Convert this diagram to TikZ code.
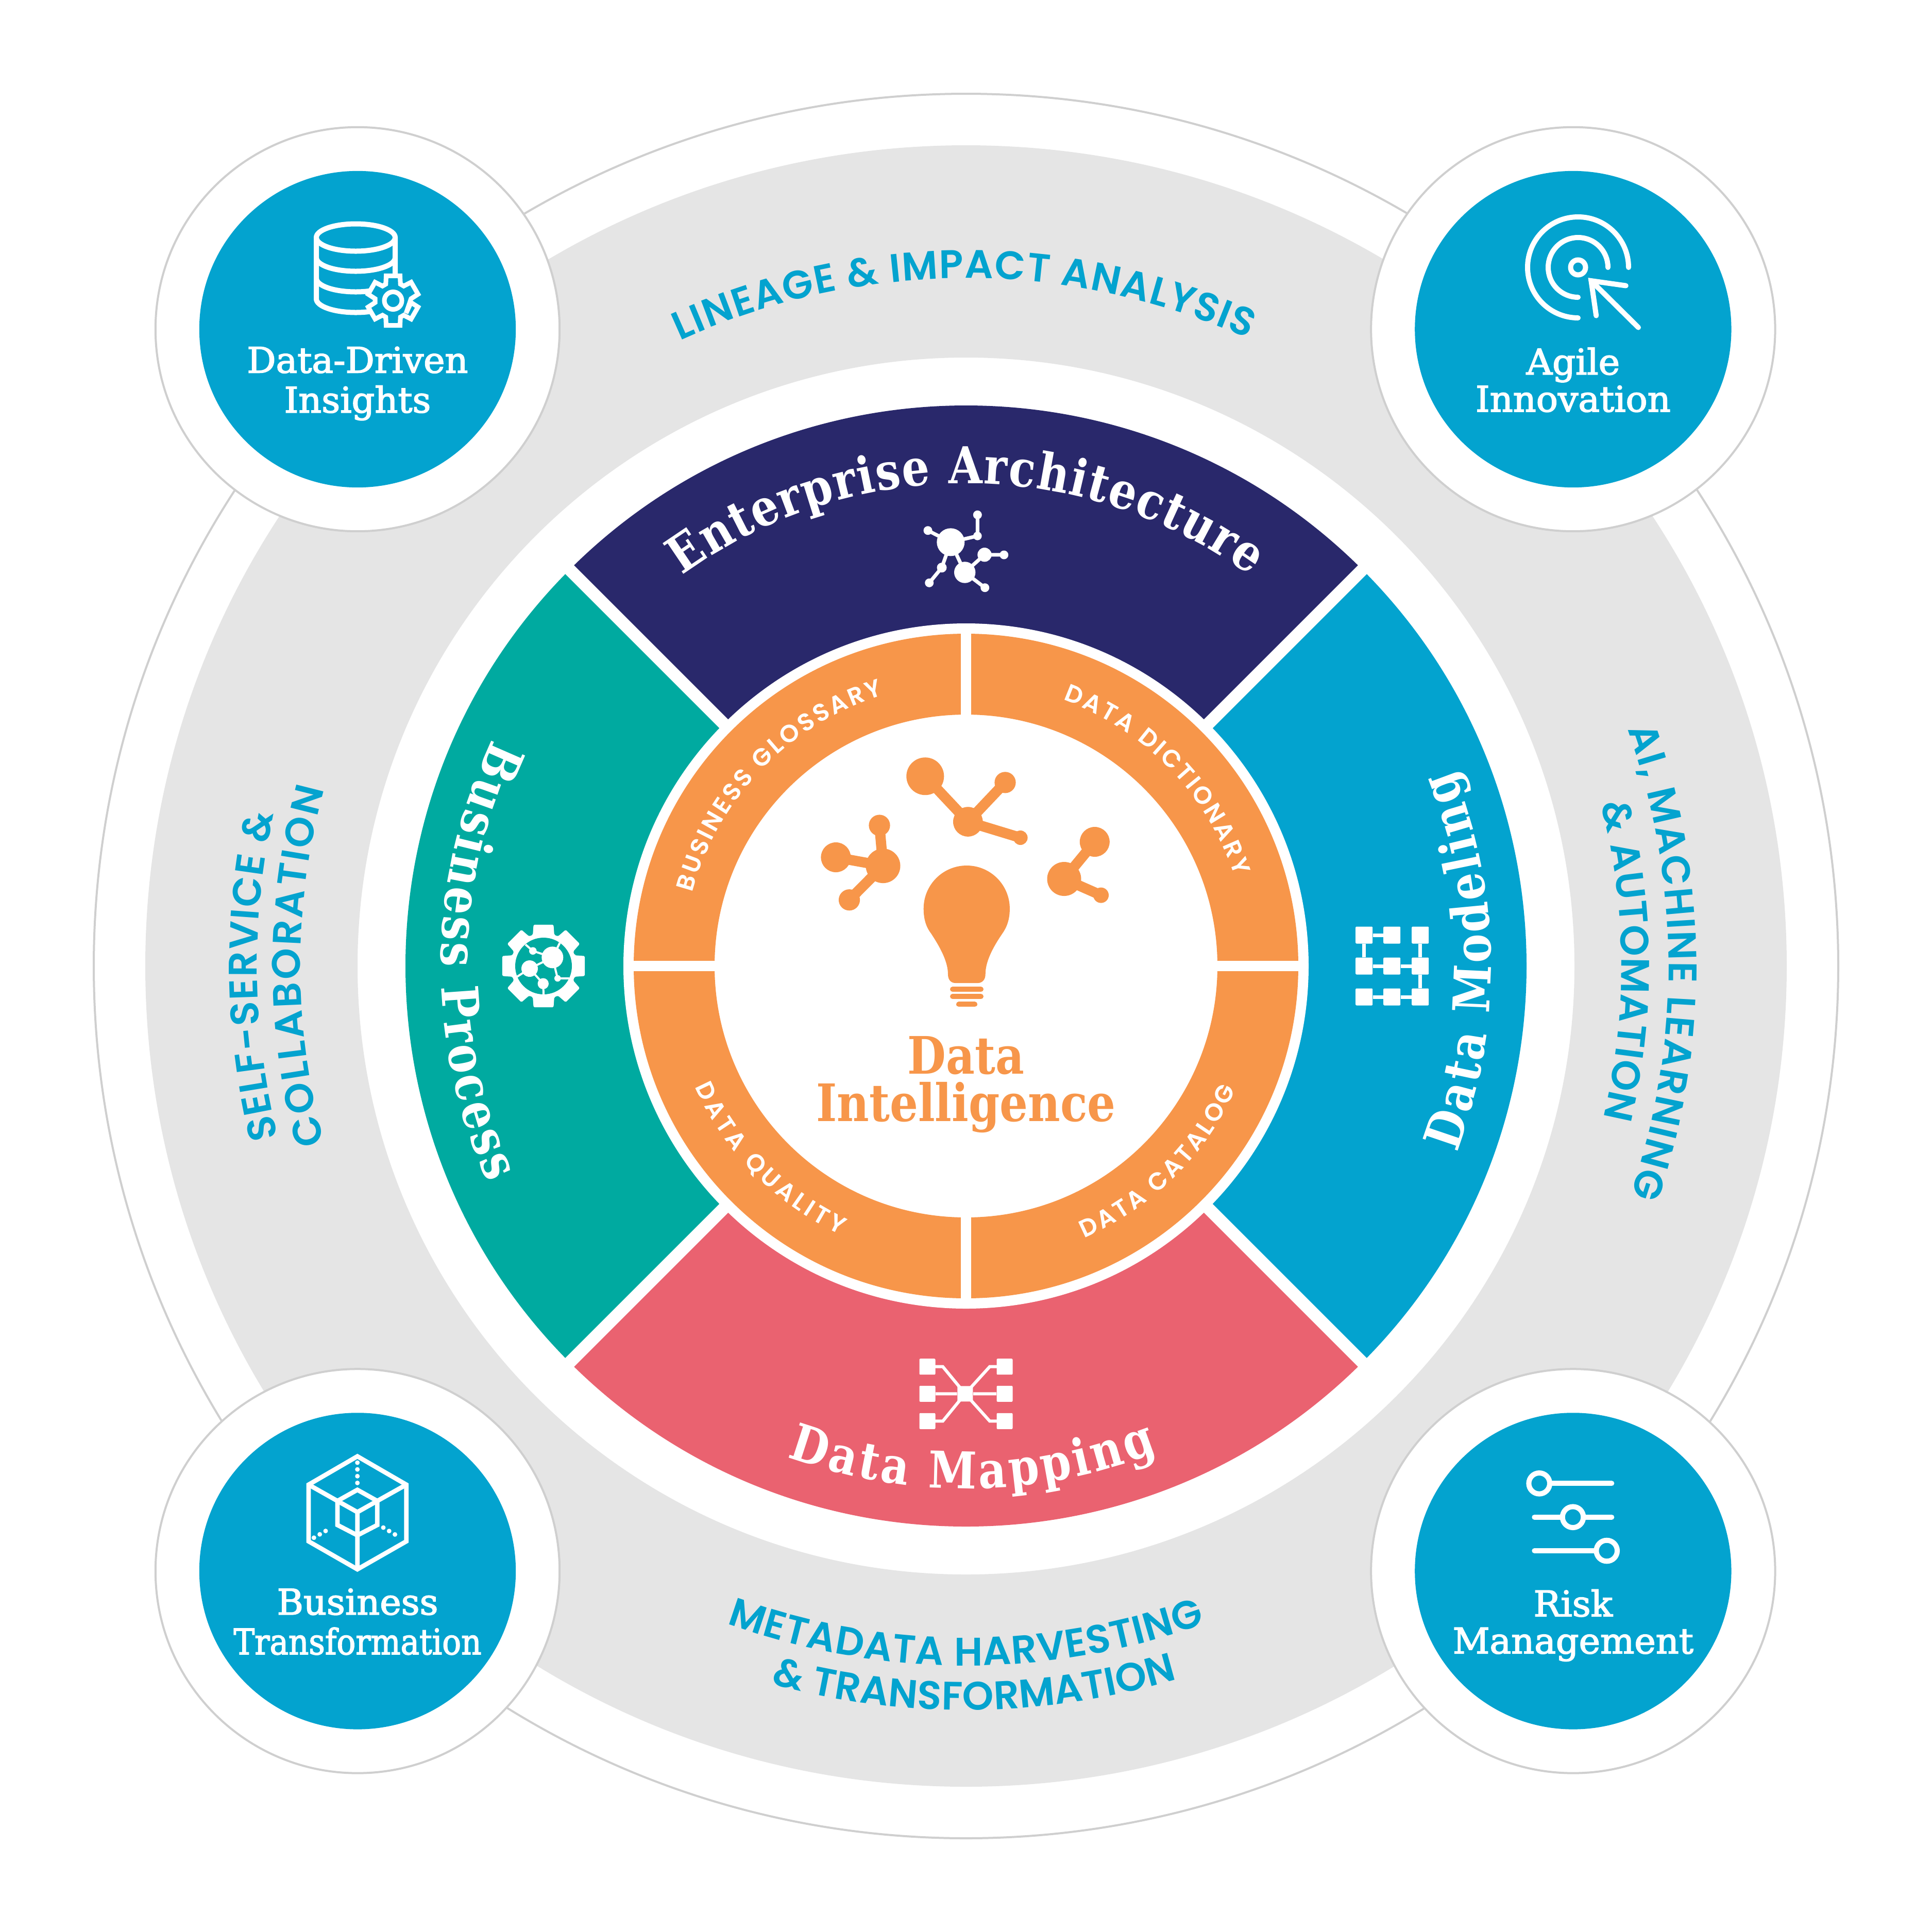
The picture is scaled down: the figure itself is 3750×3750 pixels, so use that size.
\documentclass[tikz,border=0pt]{standalone}
\usepackage{fontspec}
\usetikzlibrary{positioning,calc,decorations.text}
\newfontfamily\slabfont[FakeStretch=1.02,FakeBold=2.5]{DejaVu Serif}
\newfontfamily\slabheavy[FakeStretch=0.86]{DejaVu Serif Bold}
\newfontfamily\capsfont{Poppins SemiBold}
\newcommand{\bandfont}{\capsfont\fontsize{22}{22}\selectfont\color{skyblue}}
\newcommand{\ringfont}{\capsfont\fontsize{13.5}{13.5}\selectfont\color{white}}
\newcommand{\sectorfont}{\slabheavy\fontsize{28}{28}\selectfont\color{white}}
\definecolor{skyblue}{HTML}{03A3CF}
\definecolor{navyband}{HTML}{29286B}
\definecolor{tealband}{HTML}{00AAA0}
\definecolor{coralband}{HTML}{EA6270}
\definecolor{orangeband}{HTML}{F7964A}
\definecolor{greyband}{HTML}{E5E5E5}
\definecolor{greyline}{HTML}{CFCFCF}
\tikzset{
  satring/.style={circle,draw=greyline,fill=white,line width=.04cm,inner sep=0pt,minimum size=7.84cm},
  satdisc/.style={circle,fill=skyblue,inner sep=0pt,minimum size=6.14cm},
  satlabel/.style={font=\slabfont\fontsize{19.5}{20.5}\selectfont,text=white,align=center,inner sep=0pt},
  bandtext/.style={decorate,decoration={text along path,text align={fit to path},text={|\bandfont|#1}}},
  ringtext/.style={decorate,decoration={text along path,text align={fit to path},text={|\ringfont|#1}}},
  sectortext/.style={decorate,decoration={text along path,text align={fit to path},text={|\sectorfont|#1}}},
  atom/.style={circle,fill=#1,inner sep=0pt,outer sep=0pt},
  cell/.style={rectangle,fill=white,inner sep=0pt,minimum size=#1,rounded corners=.02cm},
  iconline/.style={draw=white,line width=.1cm},
  knob/.style={circle,draw=white,fill=skyblue,line width=.1cm,inner sep=0pt,minimum size=.406cm}
}

\begin{document}
\begin{tikzpicture}[x=.01cm,y=-.01cm,node distance=24.09cm and 23.58cm,on grid]
  \path[use as bounding box] (0,0) rectangle (3750,3750);
  \coordinate (ctr) at (1875,1875);

  % outer rings
  \draw[greyline,line width=.04cm] (ctr) circle (1693);
  \fill[greyband,even odd rule] (ctr) circle (1593) (ctr) circle (1181);

  % corner discs
  \node[satring] (insights)  at (694,639)       {};
  \node[satring] (agile)     [right=of insights]  {};
  \node[satring] (transform) [below=of insights]  {};
  \node[satring] (risk)      [right=of transform] {};
  \foreach \n in {insights,agile,transform,risk}
    \node[satdisc] (\n disc) at (\n) {};
  \node[satlabel] (insightstxt)  at ($(insights)+(0,108.6)$)  {\strut Data-Driven\\\strut Insights};
  \node[satlabel] (agiletxt)     at ($(agile)+(0,108.6)$)     {\strut Agile\\\strut Innovation};
  \node[satlabel] (transformtxt) at ($(transform)+(0,108.6)$) {\strut Business\\\strut\scalebox{.875}[1]{Transformation}};
  \node[satlabel] (risktxt)      at ($(risk)+(0,108.6)$)      {\strut Risk\\\strut Management};

  \begin{scope}[shift={(1875,1875)}]
    % band labels
    \path[bandtext={LINEAGE {\&} IMPACT ANALYSIS}] (245.4:1335) arc (245.4:294.2:1335);
    \path[bandtext={METADATA HARVESTING}] (110:1358) arc (110:70:1358);
    \path[bandtext={{\&} TRANSFORMATION}] (105.2:1444) arc (105.2:73.5:1444);
    \path[bandtext={SELF-SERVICE {\&}}] (166:1376) arc (166:192.4:1376);
    \path[bandtext={COLLABORATION}] (164.6:1292) arc (164.6:195.4:1292);
    \path[bandtext={AI, MACHINE LEARNING}] (-19.7:1364) arc (-19.7:19:1364);
    \path[bandtext={{\&} AUTOMATION}] (-14.3:1272) arc (-14.3:13.4:1272);

    % coloured sectors
    \foreach \ang/\col in {225/navyband,315/skyblue,45/coralband,135/tealband}
      \fill[\col] (0,0) -- (\ang:1088) arc (\ang:{\ang+90}:1088) -- cycle;
    \draw[white,line width=.24cm] (45:1100) -- (225:1100) (135:1100) -- (315:1100);
    \fill[white] (0,0) circle (665);
    \fill[orangeband,even odd rule] (0,0) circle (645) (0,0) circle (488);
    \draw[white,line width=.2cm] (0,-660) -- (0,-480) (0,480) -- (0,660) (-660,0) -- (-480,0) (480,0) -- (660,0);

    \path[sectortext={Enterprise Architecture}] (234:937) arc (234:306:937);
    \path[sectortext={Data Mapping}] (110:1014) arc (110:68.5:1014);
    \path[sectortext={Data Modeling}] (20.8:1019) arc (20.8:-22:1019);
    \path[sectortext={Business Process}] (205.6:1019) arc (205.6:155.6:1019);

    \path[ringtext={BUSINESS GLOSSARY}] (195:550) arc (195:253:550);
    \path[ringtext={DATA DICTIONARY}] (290:550) arc (290:341.5:550);
    \path[ringtext={DATA CATALOG}] (66.5:576) arc (66.5:24.6:576);
    \path[ringtext={DATA QUALITY}] (156:576) arc (156:115:576);
  \end{scope}

  % centre title
  \node[font=\slabheavy\fontsize{28.5}{26}\selectfont,text=orangeband,align=center] (title) at (1875,2105) {Data\\Intelligence};

  % bulb
  \fill[orangeband] (1792.7,1763.6) arc (180:360:83.6)
    .. controls (1960,1785) and (1954,1800) .. (1945.5,1812)
    .. controls (1925,1842) and (1912.7,1868) .. (1912.7,1891)
    .. controls (1912.7,1902) and (1906,1908) .. (1898,1908)
    -- (1854.5,1908)
    .. controls (1846,1908) and (1840,1902) .. (1840,1891)
    .. controls (1840,1868) and (1827,1842) .. (1807.3,1812)
    .. controls (1798,1800) and (1792.7,1785) .. (1792.7,1763.6) -- cycle;
  \draw[orangeband,line width=.1cm,line cap=round] (1849,1920.3) -- (1904,1920.3) (1849,1934.2) -- (1904,1934.2) (1861,1949.4) -- (1892,1949.4);

  % molecules over the bulb
  \foreach \n/\px/\py/\r in {ta/1795.8/1506.7/73,tb/1878.8/1595/57.6,tc/1951/1518.8/41.2,td/1980.6/1626/28,
                             la/1714/1680.6/67,lb/1622.4/1664/58,lc/1707/1602/41.2,ld/1648.5/1746.7/41.2,
                             ra/2065.5/1706/66,rb/2124.8/1634/58,rc/2137/1737.6/30}
    \node[atom=orangeband,minimum size=\r*.01cm] (\n) at (\px,\py) {};
  \draw[orangeband,line width=.2cm] (ta.center) -- (tb.center) -- (tc.center) (tb.center) -- (td.center)
    (la.center) -- (lb.center) (la.center) -- (lc.center) (la.center) -- (ld.center)
    (ra.center) -- (rb.center) (ra.center) -- (rc.center);

  % enterprise icon
  \foreach \n/\px/\py/\r in {ea/1845.3/1052.3/54,eb/1872.7/1111/41.4,ec/1911/1076.7/27.4,ed/1948.7/1077/17,ee/1801/1029.7/17,
                             ef/1897.3/999.3/17,eg/1897.3/1040.3/16.6,eh/1828/1101.7/19,ei/1803.7/1131.3/17,ej/1911.7/1140.7/17}
    \node[atom=white,minimum size=\r*.01cm] (\n) at (\px,\py) {};
  \draw[white,line width=.07cm] (ea.center) -- (ee.center) (ea.center) -- (eg.center) -- (ef.center)
    (ea.center) -- (eh.center) -- (ei.center) (ea.center) -- (eb.center) -- (ec.center) -- (ed.center)
    (eb.center) -- (ej.center);

  % modeling icon
  \foreach \x/\cx in {1/2647.7,2/2701.7,3/2756.7}
    \foreach \y/\cy in {1/1815,2/1875,3/1935}
      \node[cell=.33cm] (m\x\y) at (\cx,\cy) {};
  \draw[white,line width=.07cm] (m11) -- (m21) (m11) -- (m12) (m31) -- (m32) (m12) -- (m22) -- (m32)
    (m32) -- (m33) (m13) -- (m23) -- (m33);

  % mapping icon
  \node[cell=.3cm] (hub) at (1873.3,2705.3) {};
  \foreach \x/\cx in {l/1800,r/1950}
    \foreach \y/\cy in {1/2652.7,2/2705.3,3/2758.3}
      \node[cell=.31cm] (p\x\y) at (\cx,\cy) {};
  \draw[white,line width=.06cm] (pl1.center) -- ++(30,0) -- (hub.center) -- (1921,2652.7) -- (pr1.center)
    (pl3.center) -- ++(30,0) -- (hub.center) -- (1921,2758.3) -- (pr3.center)
    (pl2) -- (hub) -- (pr2);

  % process icon
  \begin{scope}[shift={(1055,1875)}]
    \fill[white,rounded corners=.02cm] (-19:64) \foreach \a in {0,45,...,315} { -- ({\a-19}:64) -- ({\a-13.6}:82.5) -- ({\a+13.6}:82.5) -- ({\a+19}:64) } -- cycle;
    \fill[tealband] (0,0) circle (55);
  \end{scope}
  \foreach \n/\px/\py/\r in {ga/1072.3/1858.3/42,gb/1028/1880/32,gc/1054.3/1909.3/21.4,gd/1034.3/1845.7/14.6,ge/1082.3/1899/12.6}
    \node[atom=white,minimum size=\r*.01cm] (\n) at (\px,\py) {};
  \draw[white,line width=.04cm] (ga.center) -- (gd.center) -- (1020,1833.3) (ga.center) -- (1086.7,1830)
    (ga.center) -- (ge.center) -- (1105,1899) (gb.center) -- (ga.center) (gb.center) -- (1003.3,1896)
    (gb.center) -- (gc.center) -- (1055,1930);

  % database icon
  \draw[iconline] (690.5,461) ellipse (76.5 and 26.5);
  \draw[iconline] (614,461) -- (614,580) arc (180:0:76.5 and 26.5) -- (767,461);
  \draw[iconline] (614,500) arc (180:0:76.5 and 26.5);
  \draw[iconline] (614,540) arc (180:0:76.5 and 26.5);
  \begin{scope}[shift={(763,583.5)}]
    \filldraw[iconline,fill=skyblue,line width=.09cm] (-30+90-16:35) \foreach \a in {30,90,...,330} { -- ({\a-24}:35) -- ({\a-15.6}:50) -- ({\a+15.6}:50) -- ({\a+24}:35) } -- cycle;
    \draw[iconline,line width=.09cm] (0,0) circle (17);
  \end{scope}

  % target icon
  \coordinate (aim) at (3063,519);
  \draw[iconline,line cap=round] (aim) circle (14.5);
  \draw[iconline,line cap=round] ([shift={(aim)}]0:58) arc (0:-270:58);
  \draw[iconline,line cap=round] ([shift={(aim)}]0:98) arc (0:-270:98);
  \coordinate (tip) at (3088.4,545);
  \draw[iconline,line cap=round] (tip) -- (3180,635.6);
  \draw[iconline,line cap=round,miter limit=10] (3155.8,554.5) -- (tip) -- (3098.2,612.7);

  % cube icon
  \draw[iconline,line width=.087cm] (693.7,2826.7) -- (788.7,2881.7) -- (788.7,2991.7) -- (693.7,3046) -- (599,2991.7) -- (599,2881.7) -- cycle;
  \draw[iconline,line width=.087cm] (693.7,2891.7) -- (732.3,2913.3) -- (732.3,2960) -- (693.7,2980) -- (655,2960) -- (655,2913.3) -- cycle;
  \draw[iconline,line width=.087cm] (599,2881.7) -- (655,2913.3) -- (693.7,2935) -- (732.3,2913.3) -- (788.7,2881.7) (693.7,2935) -- (693.7,3046);
  \draw[white,line width=.09cm,line cap=round,dash pattern=on 0cm off .131cm] (693.7,2839) -- (693.7,2878.7)
    (609.3,2984.7) -- (643.3,2965) (744,2965) -- (777.3,2984.7);

  % slider icon
  \node[knob] (ka) at (2987.7,2879.3) {};
  \node[knob] (kb) at (3053,2944.7) {};
  \node[knob] (kc) at (3118.7,3010) {};
  \draw[iconline,line cap=round] (ka) -- (3128.3,2879.3) (2978.3,2944.7) -- (kb) (kb) -- (3128.3,2944.7) (2978.3,3010) -- (kc);
\end{tikzpicture}
\end{document}
